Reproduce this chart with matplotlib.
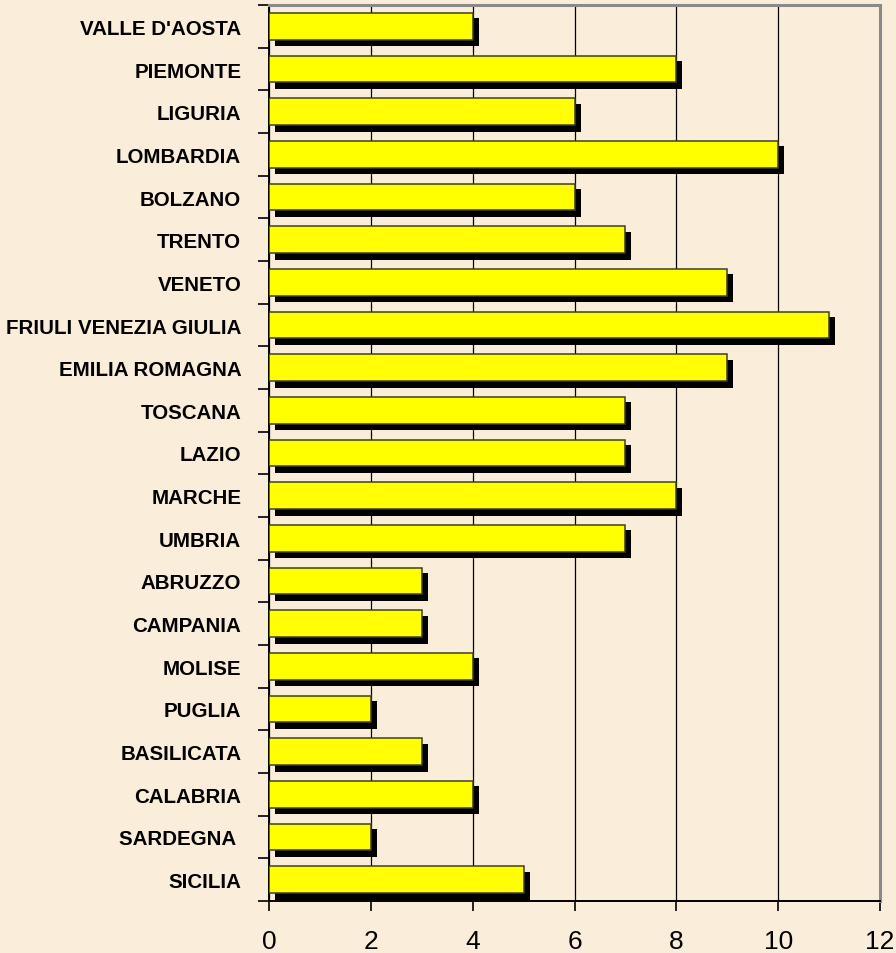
import matplotlib
matplotlib.use('Agg')
import matplotlib.pyplot as plt
from matplotlib.transforms import ScaledTranslation
import numpy as np

# Regions and values (top to bottom)
regions = ["VALLE D'AOSTA", "PIEMONTE", "LIGURIA", "LOMBARDIA", "BOLZANO",
           "TRENTO", "VENETO", "FRIULI VENEZIA GIULIA", "EMILIA ROMAGNA",
           "TOSCANA", "LAZIO", "MARCHE", "UMBRIA", "ABRUZZO", "CAMPANIA",
           "MOLISE", "PUGLIA", "BASILICATA", "CALABRIA", "SARDEGNA ", "SICILIA"]
values = [4, 8, 6, 10, 6, 7, 9, 11, 9, 7, 7, 8, 7, 3, 3, 4, 2, 3, 4, 2, 5]
xticks = [0, 2, 4, 6, 8, 10, 12]

bg = '#FAEEDA'
fig = plt.figure(figsize=(8.96, 9.54), dpi=100, facecolor=bg)
ax = fig.add_axes([269/896, 52/954, (880-269)/896, (948-52)/954])
ax.set_facecolor(bg)

y = np.arange(len(regions))
h = 0.62

# Shadows, shifted a few pixels right and down
shadow = ax.transData + ScaledTranslation(6/100, -6/100, fig.dpi_scale_trans)
ax.barh(y, values, height=h + 0.04, color='black', transform=shadow, zorder=2)
ax.barh(y, values, height=h, color='#FFFF00', edgecolor='#3f3f20',
        linewidth=1.1, zorder=3)

ax.set_xlim(0, 12)
ax.set_ylim(len(regions) - 0.5, -0.5)

ax.set_xticks(xticks)
ax.set_xticklabels([str(t) for t in xticks],
                   fontfamily=['Liberation Sans Narrow', 'Liberation Sans'],
                   fontsize=19)
ax.tick_params(axis='x', direction='out', length=7, width=1.2, pad=13,
               colors='black')

ax.set_yticks(y)
ax.set_yticklabels(regions, fontfamily='Liberation Sans', fontweight='bold',
                   fontsize=14.8)
ax.tick_params(axis='y', which='major', length=0, pad=20)
ax.set_yticks(np.arange(len(regions) + 1) - 0.5, minor=True)
ax.tick_params(axis='y', which='minor', direction='out', length=8, width=1.2)

ax.grid(axis='x', color='black', linewidth=0.9, zorder=1)
ax.set_axisbelow(True)

for side in ['left', 'bottom']:
    ax.spines[side].set_color('black')
    ax.spines[side].set_linewidth(1.4)
for side in ['top', 'right']:
    ax.spines[side].set_color('#8a8a8a')
    ax.spines[side].set_linewidth(2.2)

fig.savefig('out.png', dpi=100, facecolor=bg)
